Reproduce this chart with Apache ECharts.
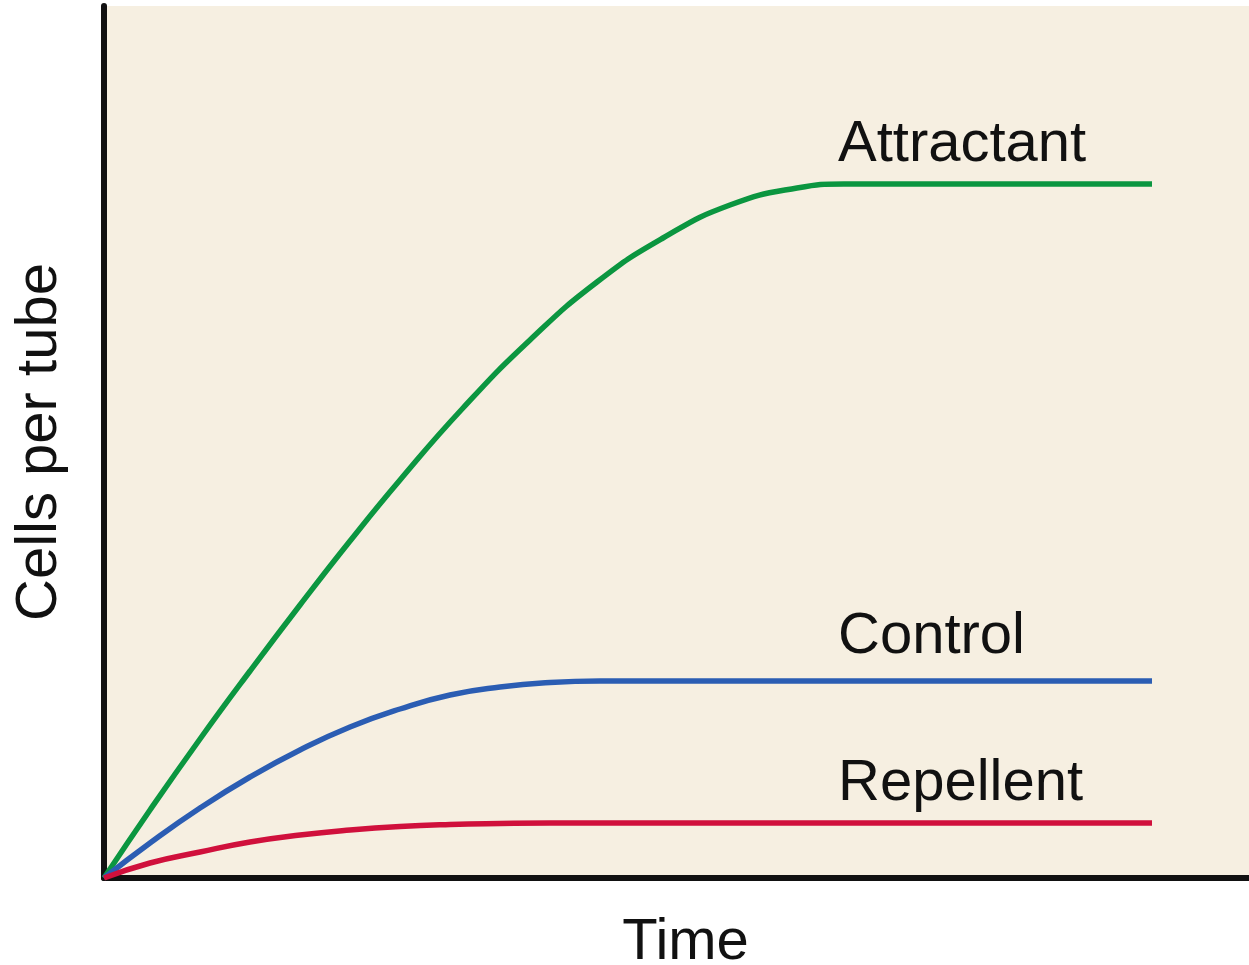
<!DOCTYPE html>
<html>
<head>
<meta charset="utf-8">
<script src="https://cdn.jsdelivr.net/npm/echarts@6/dist/echarts.min.js"></script>
<style>
html,body{margin:0;padding:0;background:#fff;}
#chart{width:1249px;height:965px;}
</style>
</head>
<body>
<div id="chart"></div>
<script>
// Time (arbitrary units) / cells per tube (arbitrary units)
var attractantData = [[0,0],[46,68],[96,139],[146,207],[196,273],[246,337],[296,398],[359,470],[426,538],[493,596],[559,640],[626,673],[693,690],[740,694],[1048,694]];
var controlData = [[0,0],[46,35],[96,70],[146,101],[196,128],[246,151],[296,169],[346,183],[396,191],[446,195.5],[496,197],[560,197],[1048,197]];
var repellentData = [[0,0],[46,15],[96,26],[146,36],[196,43],[246,48],[296,51.5],[346,53.5],[396,54.5],[446,55],[1048,55]];
var seriesNames = ['Attractant', 'Control', 'Repellent'];
var labelAnchorX = 734;
var xMax = 1145, yMax = 872;

var FONT = '"Liberation Sans", Arial, Helvetica, sans-serif';
function labelMark(data, name, dy) {
  var last = data[data.length - 1];
  return {
    symbol: 'circle', symbolSize: 0, silent: true,
    data: [{
      coord: [labelAnchorX, last[1]],
      label: {
        show: true, position: 'right', distance: 0, offset: [0, dy],
        formatter: name, color: '#111', fontSize: 58, fontFamily: FONT
      }
    }]
  };
}
function mk(name, data, color, dy) {
  return {
    name: name, type: 'line', data: data, smooth: 0.5,
    showSymbol: false, symbol: 'none', silent: true,
    lineStyle: { color: color, width: 5.5, cap: 'butt' },
    markPoint: labelMark(data, name, dy),
    z: 3
  };
}
var chart = echarts.init(document.getElementById('chart'), null, { renderer: 'canvas' });
chart.setOption({
  animation: false,
  backgroundColor: '#ffffff',
  grid: { left: 104, right: 0, top: 6, bottom: 87, show: true, backgroundColor: '#f6efe1', borderWidth: 0, outerBoundsMode: 'none', containLabel: false },
  xAxis: {
    type: 'value', min: 0, max: xMax,
    name: 'Time', nameLocation: 'middle', nameGap: 36,
    nameTextStyle: { color: '#111', fontSize: 58, fontFamily: FONT, padding: [0, 0, 0, 18] },
    axisLine: { show: true, lineStyle: { color: '#111', width: 6 } },
    axisTick: { show: false }, axisLabel: { show: false }, splitLine: { show: false }
  },
  yAxis: {
    type: 'value', min: 0, max: yMax,
    name: 'Cells per tube', nameLocation: 'middle', nameGap: 35,
    nameTextStyle: { color: '#111', fontSize: 58, fontFamily: FONT },
    axisLine: { show: true, lineStyle: { color: '#111', width: 6 } },
    axisTick: { show: false }, axisLabel: { show: false }, splitLine: { show: false }
  },
  series: [
    mk(seriesNames[0], attractantData, '#0b9640', -39),
    mk(seriesNames[1], controlData, '#2b5db3', -44),
    mk(seriesNames[2], repellentData, '#d0103c', -39)
  ]
});
</script>
</body>
</html>
